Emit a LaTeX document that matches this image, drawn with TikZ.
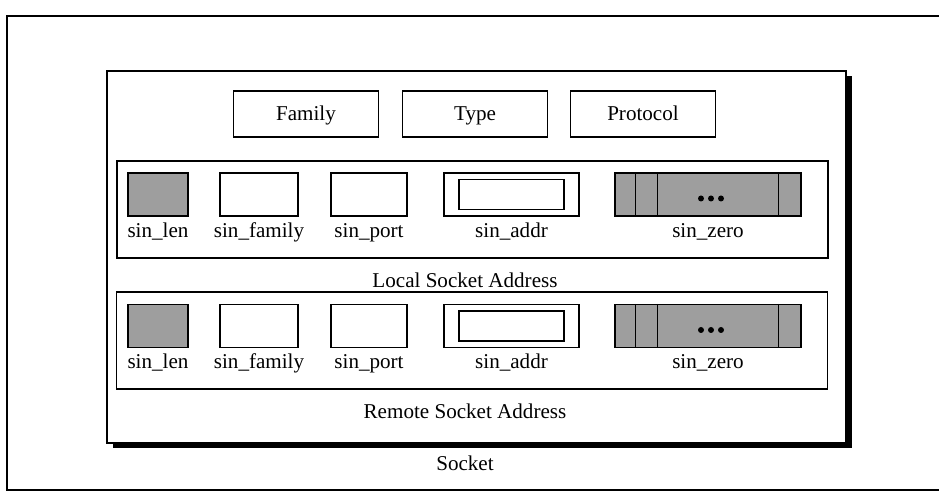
\documentclass[tikz,border=0pt]{standalone}
\usepackage{fontspec}
\setmainfont{Liberation Serif}
\usepackage{tikz}
\usetikzlibrary{positioning, shadows}

\begin{document}
\begin{tikzpicture}[
  every node/.style={font=\fontsize{12}{14}\selectfont},
  box/.style={draw, line width=0.8pt, inner sep=0pt},
  topbox/.style={box, minimum width=2.9cm, minimum height=0.92cm, text height=1.6ex, text depth=0.1ex},
  addrbox/.style={box, minimum width=14.22cm, minimum height=1.94cm},
  field/.style={box, minimum height=0.86cm},
  grayfield/.style={field, fill=black!38},
  fieldlbl/.style={inner sep=0pt, text height=1.6ex, text depth=0.5ex},
]
\useasboundingbox (0,0) rectangle (18.78,10);
% page frame
\draw[line width=0.7pt] (19.5,9.68) -- (0.14,9.68) -- (0.14,0.2) -- (19.5,0.2);

% socket
\node[box, fill=white, minimum width=14.78cm, minimum height=7.44cm,
  drop shadow={shadow xshift=0.11cm, shadow yshift=-0.11cm, fill=black, opacity=1}]
  (socket) at (9.53,4.86) {};
\node (socketlbl) at (9.3,0.74) {Socket};

\node[topbox] (family) at (6.12,7.72) {Family};
\node[topbox] (type) at (9.5,7.72) {Type};
\node[topbox] (proto) at (12.86,7.72) {Protocol};

% local and remote address
\node[addrbox] (local) at (9.45,5.81) {};
\node (locallbl) at (9.3,4.4) {Local Socket Address};
\node[addrbox] (remote) at (9.44,3.19) {};
\node (remotelbl) at (9.3,1.78) {Remote Socket Address};

\foreach \r/\y in {l/6.11, r/3.48} {
  \node[grayfield, minimum width=1.2cm] (len\r) at (3.16,\y) {};
  \node[field, minimum width=1.56cm] (fam\r) at (5.18,\y) {};
  \node[field, minimum width=1.52cm] (port\r) at (7.38,\y) {};
  \node[field, minimum width=2.7cm] (addr\r) at (10.23,\y) {};
  \node[box, minimum width=2.1cm, minimum height=0.6cm] (in\r) at (addr\r) {};
  \node[grayfield, minimum width=3.72cm] (zero\r) at (14.16,\y) {};
  \foreach \dx in {0.42, 0.86, 3.28}
    \draw[line width=0.8pt] ([xshift=\dx cm]zero\r.north west) -- ([xshift=\dx cm]zero\r.south west);
  \foreach \dx in {-0.14, 0.06, 0.26}
    \fill ([xshift=\dx cm, yshift=-0.08cm]zero\r.center) circle (0.06);
  \node[fieldlbl, below=0.15cm of len\r] (lenlbl\r) {sin\_len};
  \node[fieldlbl, below=0.15cm of fam\r] (famlbl\r) {sin\_family};
  \node[fieldlbl, below=0.15cm of port\r] (portlbl\r) {sin\_port};
  \node[fieldlbl, below=0.15cm of addr\r] (addrlbl\r) {sin\_addr};
  \node[fieldlbl, below=0.15cm of zero\r] (zerolbl\r) {sin\_zero};
}
\end{tikzpicture}
\end{document}
